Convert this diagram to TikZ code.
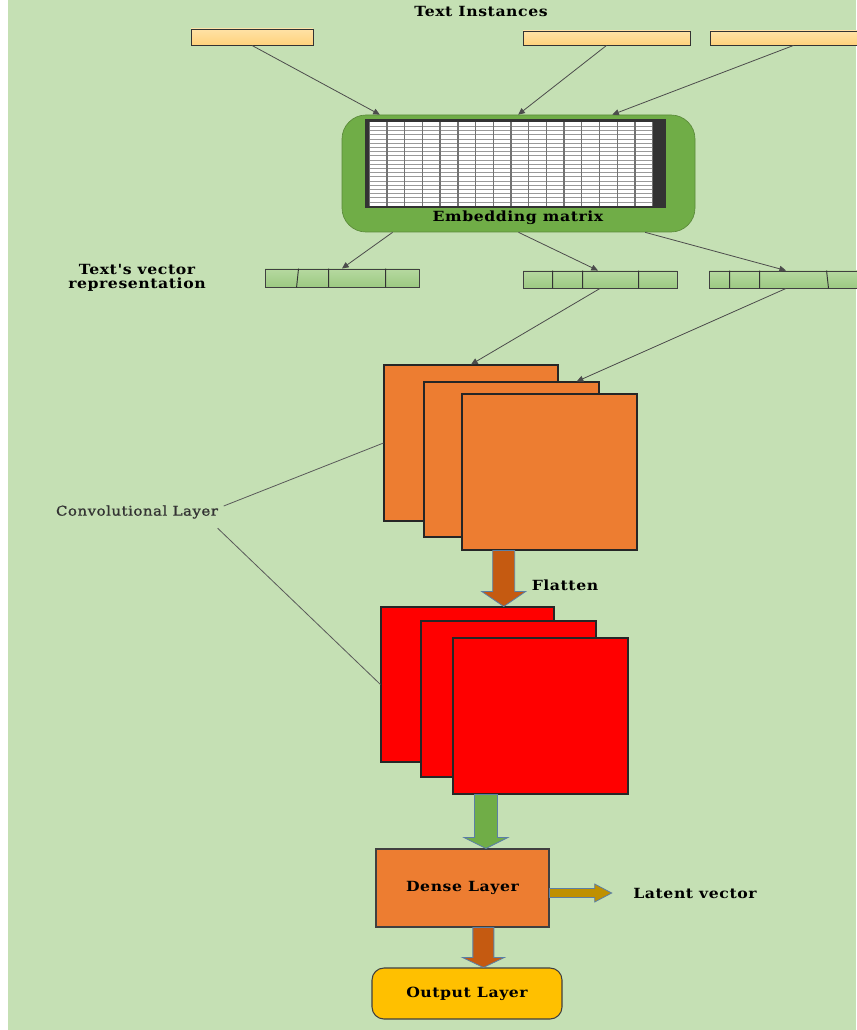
\documentclass[tikz,border=0pt]{standalone}
\usepackage{fontspec}
\setmainfont{DejaVu Serif}
\newfontfamily\lblfont[FakeStretch=1.12, LetterSpace=4]{DejaVu Serif}
\newfontfamily\lblthin[FakeStretch=1.12, LetterSpace=4, FakeBold=1.2]{DejaVu Serif}
\usetikzlibrary{arrows.meta, positioning, calc, fit}

\definecolor{paper}{HTML}{C5E0B4}
\definecolor{peachtop}{HTML}{FFE2A6}
\definecolor{peachbot}{HTML}{FFD27C}
\definecolor{embgreen}{HTML}{70AD47}
\definecolor{vectop}{HTML}{B6D9A0}
\definecolor{vecbot}{HTML}{9CC982}
\definecolor{convorange}{HTML}{ED7D31}
\definecolor{flatbrown}{HTML}{C55A11}
\definecolor{latentgold}{HTML}{BF9000}
\definecolor{outgold}{HTML}{FFC000}
\definecolor{arrowedge}{HTML}{5B7FA5}

\begin{document}
\begin{tikzpicture}[x=0.75pt, y=-0.75pt,
    inbox/.style={draw=black!80, line width=0.7pt, top color=peachtop,
                  bottom color=peachbot, inner sep=0pt},
    vecbox/.style={draw=black!75, line width=0.7pt, top color=vectop,
                   bottom color=vecbot, inner sep=0pt},
    convbox/.style={draw=black!85, line width=0.8pt, fill=convorange,
                    inner sep=0pt},
    mapbox/.style={draw=black!85, line width=0.8pt, fill=red, inner sep=0pt},
    lbl/.style={font=\lblfont\bfseries\fontsize{10.5}{10}\selectfont, text=black},
    link/.style={draw=black!70, line width=0.6pt,
                 -{Triangle[length=5pt, width=4.5pt]}},
    lead/.style={draw=black!65, line width=0.6pt},
    fat/.style={draw=arrowedge, line width=0.6pt, fill=#1}
  ]

  % Page
  \useasboundingbox (0,0) rectangle (856,1030);
  \fill[paper] (8,0) rectangle (856,1030);

  % Text instances
  \node[lbl] (title) at (481,12) {Text Instances};
  \node[inbox, fit={(191,29) (313,45)}] (txt1) {};
  \node[inbox, fit={(523,31) (690,45)}] (txt2) {};
  \node[inbox, fit={(710,31) (877,45)}] (txt3) {};

  % Embedding matrix
  \node[draw=embgreen!80!black, line width=0.5pt, fill=embgreen,
        rounded corners=18pt, fit={(342,115) (695,232)}, inner sep=0pt] (emb) {};
  \fill[black!80] (365,119) rectangle (666,208);
  \fill[white] (369,122) rectangle (653,206);
  \foreach \r in {1,...,19}
    \draw[black!40, line width=0.4pt] (369,{122+4.2*\r}) -- (653,{122+4.2*\r});
  \foreach \c in {0,...,16}
    \draw[black!55, line width=1pt] ({369.3+17.71*\c},122) -- ({369.3+17.71*\c},206);
  \node[lbl] (embtxt) at (518,218) {Embedding matrix};

  \draw[link] (txt1.south) -- ($(emb.north west)!0.108!(emb.north east)$);
  \draw[link] (txt2.south) -- ($(emb.north west)!0.499!(emb.north east)$);
  \draw[link] (txt3.south) -- ($(emb.north west)!0.765!(emb.north east)$);

  % Vector representations
  \node[lbl, align=center] (veclbl) at (137,278) {Text's vector\\representation};
  \node[vecbox, fit={(265,269) (419,287)}] (vec1) {};
  \node[vecbox, fit={(523,271) (677,288)}] (vec2) {};
  \node[vecbox, fit={(709,271) (863,288)}] (vec3) {};
  \draw[black!80, line width=0.7pt]
    ($(vec1.north west)+(34,0)$) -- ($(vec1.south west)+(32,0)$)
    ($(vec1.north west)+(64,0)$) -- ($(vec1.south west)+(64,0)$)
    ($(vec1.north west)+(121,0)$) -- ($(vec1.south west)+(121,0)$)
    ($(vec2.north west)+(30,0)$) -- ($(vec2.south west)+(30,0)$)
    ($(vec2.north west)+(60,0)$) -- ($(vec2.south west)+(60,0)$)
    ($(vec2.north west)+(116,0)$) -- ($(vec2.south west)+(116,0)$)
    ($(vec3.north west)+(21,0)$) -- ($(vec3.south west)+(21,0)$)
    ($(vec3.north west)+(51,0)$) -- ($(vec3.south west)+(51,0)$)
    ($(vec3.north west)+(118,0)$) -- ($(vec3.south west)+(120,0)$);

  \draw[link] ($(emb.south west)!0.144!(emb.south east)$) -- (vec1.north);
  \draw[link] ($(emb.south west)!0.5!(emb.south east)$) -- ($(vec2.north west)!0.487!(vec2.north east)$);
  \draw[link] ($(emb.south west)!0.858!(emb.south east)$) -- (vec3.north);

  % Convolutional layer
  \node[convbox, fit={(384,365) (558,521)}] (conv1) {};
  \node[convbox, fit={(424,382) (599,537)}] (conv2) {};
  \node[convbox, fit={(462,394) (637,550)}] (conv3) {};

  \draw[link] (vec2.south) -- (conv1.north);
  \draw[link] (vec3.south) -- ($(conv2.north west)!0.87!(conv2.north east)$);

  % Flatten
  \coordinate (fa) at ($(conv3.south west)!0.24!(conv3.south east)$);
  \node[mapbox, fit={(381,607) (554,762)}] (map1) {};
  \node[mapbox, fit={(421,621) (596,777)}] (map2) {};
  \node[mapbox, fit={(453,638) (628,794)}] (map3) {};
  \coordinate (fb) at (fa |- map1.north);
  \path[fat=flatbrown] ($(fa)+(-11,0)$) -- ($(fb)+(-11,-15)$) -- ($(fb)+(-22,-15)$)
    -- (fb) -- ($(fb)+(22,-15)$) -- ($(fb)+(11,-15)$) -- ($(fa)+(11,0)$) -- cycle;
  \node[lbl] (flat) at (565,585) {Flatten};

  \node[font=\lblthin\fontsize{10}{11}\selectfont, text=black!80] (convlbl) at (137,512)
    {Convolutional Layer};
  \draw[lead] ($(convlbl.east)+(1,-6)$) -- (conv1.west);
  \draw[lead] ($(convlbl.south east)+(-5,5)$) -- (map1.west);

  % Dense and output
  \node[convbox, draw=black!75, fit={(376,849) (549,927)}] (dense) {};
  \node[lbl] at (dense) {Dense Layer};
  \node[draw=black!75, line width=0.8pt, fill=outgold, rounded corners=9pt,
        fit={(372,968) (562,1019)}, inner sep=0pt] (out) {};
  \node[lbl] at (out) {Output Layer};
  \node[lbl] (latent) at (695,893) {Latent vector};

  \coordinate (ga) at ($(map3.south west)!0.19!(map3.south east)$);
  \coordinate (gb) at (ga |- dense.north);
  \path[fat=embgreen] ($(ga)+(-11.5,0)$) -- ($(gb)+(-11.5,-11)$) -- ($(gb)+(-22,-11)$)
    -- (gb) -- ($(gb)+(22,-11)$) -- ($(gb)+(11.5,-11)$) -- ($(ga)+(11.5,0)$) -- cycle;

  \coordinate (oa) at ($(dense.south west)!0.62!(dense.south east)$);
  \coordinate (ob) at (oa |- out.north);
  \path[fat=flatbrown] ($(oa)+(-10.5,0)$) -- ($(ob)+(-10.5,-10)$) -- ($(ob)+(-21,-10)$)
    -- (ob) -- ($(ob)+(21,-10)$) -- ($(ob)+(10.5,-10)$) -- ($(oa)+(10.5,0)$) -- cycle;

  \coordinate (la) at ($(dense.east)+(0,5)$);
  \coordinate (lb) at ($(latent.west)+(-17,0)$);
  \path[fat=latentgold] ($(la)+(0,-4.5)$) -- ($(lb)+(-17,-4.5)$) -- ($(lb)+(-17,-9)$)
    -- (lb) -- ($(lb)+(-17,9)$) -- ($(lb)+(-17,4.5)$) -- ($(la)+(0,4.5)$) -- cycle;

\end{tikzpicture}
\end{document}
